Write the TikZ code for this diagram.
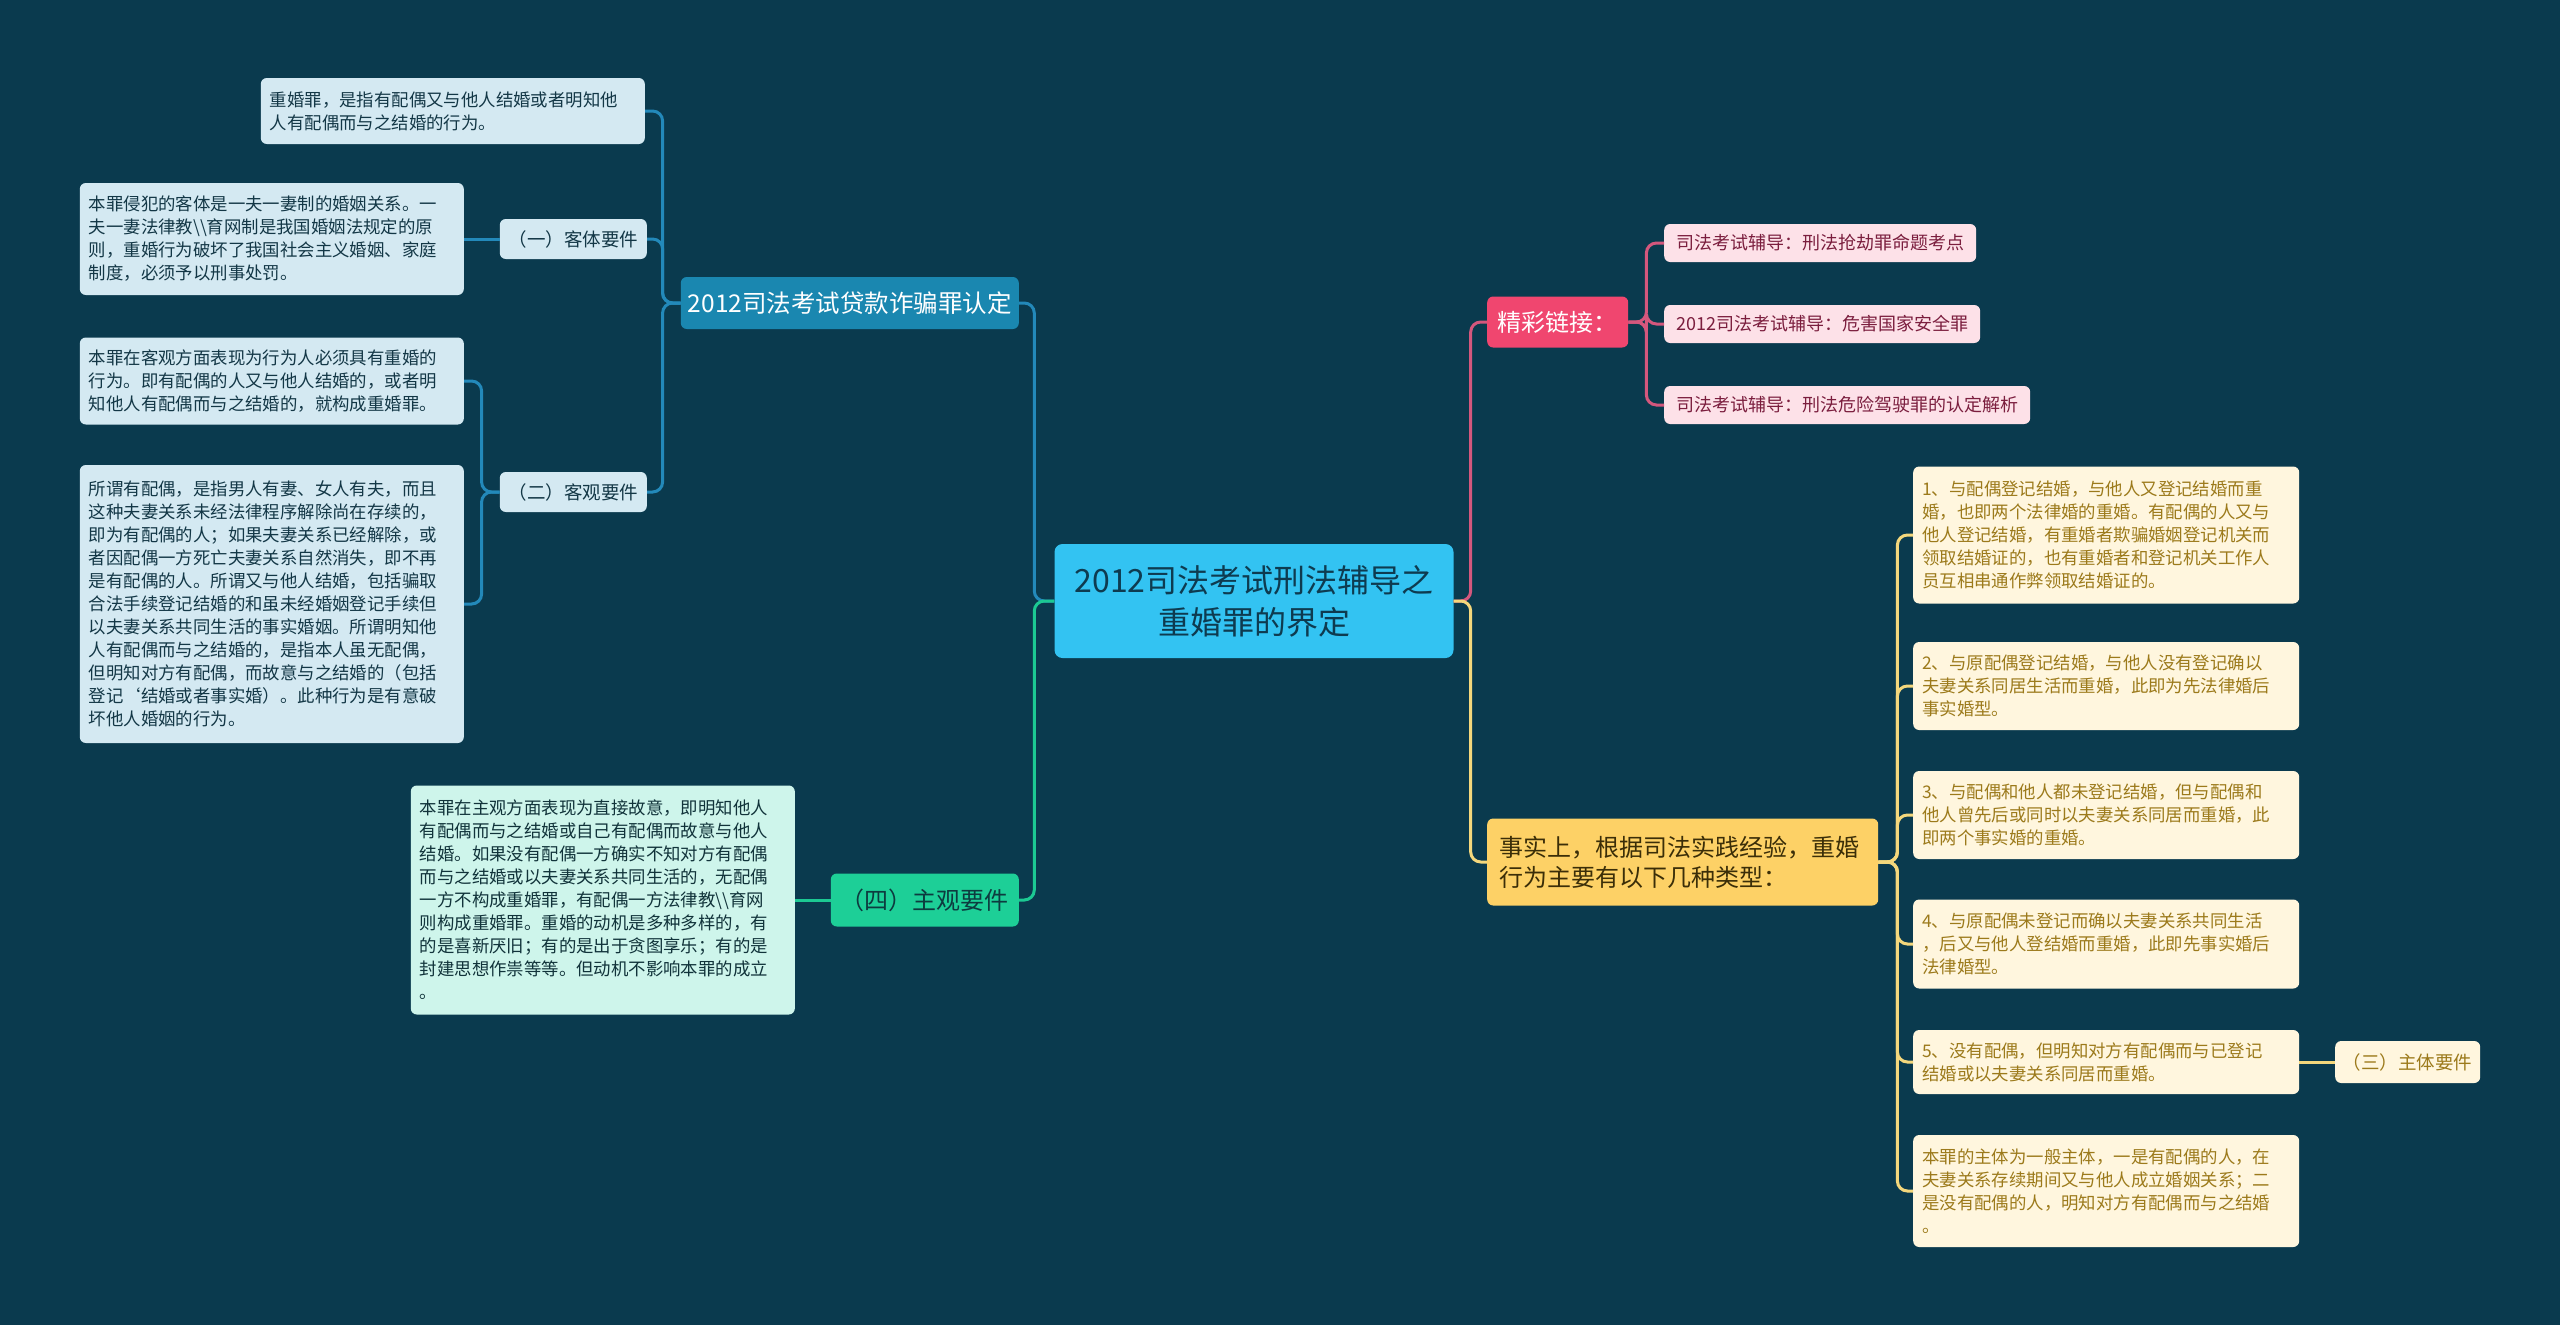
\documentclass[tikz,border=0pt]{standalone}
\usepackage{fontspec}
\setmainfont{Noto Sans CJK SC}
\definecolor{bg}{HTML}{0A3A4E}
\definecolor{rootfill}{HTML}{33C3F2}
\definecolor{roottext}{HTML}{0E3B50}
\definecolor{bluefill}{HTML}{1A87B0}
\definecolor{blueline}{HTML}{2389BA}
\definecolor{lbfill}{HTML}{D4E9F2}
\definecolor{lbtext}{HTML}{133746}
\definecolor{greenfill}{HTML}{1DCF97}
\definecolor{greenline}{HTML}{1CC993}
\definecolor{greentext}{HTML}{0D3B3F}
\definecolor{mintfill}{HTML}{CEF5EB}
\definecolor{minttext}{HTML}{11333A}
\definecolor{pinkfill}{HTML}{F0466F}
\definecolor{pinkline}{HTML}{D4577D}
\definecolor{pinkchild}{HTML}{FDE1E8}
\definecolor{pinktext}{HTML}{7B1E3E}
\definecolor{yelfill}{HTML}{FDD166}
\definecolor{yelline}{HTML}{F4D77C}
\definecolor{yeltext}{HTML}{3B2E08}
\definecolor{creamfill}{HTML}{FFF6DE}
\definecolor{creamtext}{HTML}{9C7A1B}
\begin{document}
\begin{tikzpicture}[x=1pt,y=-1pt,
  rootbox/.style={fill=rootfill, text=roottext, rounded corners=8pt, inner sep=0pt,
    minimum width=399pt, minimum height=114pt, align=center,
    font=\fontsize{32}{42}\selectfont},
  branchbox/.style={rounded corners=6pt, inner sep=0pt, align=center,
    font=\fontsize{24}{30}\selectfont},
  smallbox/.style={rounded corners=6pt, inner xsep=9pt, inner ysep=0pt,
    text width=366pt, align=left, font=\fontsize{17.4}{23}\selectfont},
  labelbox/.style={rounded corners=6pt, inner sep=0pt, align=center,
    font=\fontsize{18.5}{23}\selectfont},
  lbox/.style={smallbox, fill=lbfill, text=lbtext, anchor=east},
  mbox/.style={smallbox, fill=mintfill, text=minttext, anchor=east},
  cbox/.style={smallbox, fill=creamfill, text=creamtext, anchor=west, text width=368pt},
  pbox/.style={rounded corners=6pt, inner xsep=12pt, inner ysep=0pt, minimum height=38pt,
    fill=pinkchild, text=pinktext, anchor=west, font=\fontsize{18}{23}\selectfont},
  conn/.style={line width=3pt, rounded corners=10pt},
]
\fill[bg] (0,0) rectangle (2560,1325);
\useasboundingbox (0,0) rectangle (2560,1325);

% root
\node[rootbox] (root) at (1254,601) {2012司法考试刑法辅导之\\重婚罪的界定};

% left branch 1
\node[branchbox, fill=bluefill, text=white, anchor=east, minimum width=338pt, minimum height=52pt,
  font=\fontsize{24.5}{30}\selectfont] (b1) at (1019,303) {2012司法考试贷款诈骗罪认定};
\node[lbox, minimum height=66pt] (def) at (645,111) {重婚罪，是指有配偶又与他人结婚或者明知他\\人有配偶而与之结婚的行为。};
\node[labelbox, fill=lbfill, text=lbtext, anchor=east, minimum width=147pt, minimum height=40pt] (k1) at (647,239) {（一）客体要件};
\node[labelbox, fill=lbfill, text=lbtext, anchor=east, minimum width=147pt, minimum height=40pt] (k2) at (647,492) {（二）客观要件};
\node[lbox, minimum height=112pt] (d1) at (464,239) {本罪侵犯的客体是一夫一妻制的婚姻关系。一\\夫一妻法律教\textbackslash\textbackslash 育网制是我国婚姻法规定的原\\则，重婚行为破坏了我国社会主义婚姻、家庭\\制度，必须予以刑事处罚。};
\node[lbox, minimum height=87pt] (d2) at (464,381) {本罪在客观方面表现为行为人必须具有重婚的\\行为。即有配偶的人又与他人结婚的，或者明\\知他人有配偶而与之结婚的，就构成重婚罪。};
\node[lbox, minimum height=278pt] (d3) at (464,604) {所谓有配偶，是指男人有妻、女人有夫，而且\\这种夫妻关系未经法律程序解除尚在存续的，\\即为有配偶的人；如果夫妻关系已经解除，或\\者因配偶一方死亡夫妻关系自然消失，即不再\\是有配偶的人。所谓又与他人结婚，包括骗取\\合法手续登记结婚的和虽未经婚姻登记手续但\\以夫妻关系共同生活的事实婚姻。所谓明知他\\人有配偶而与之结婚的，是指本人虽无配偶，\\但明知对方有配偶，而故意与之结婚的（包括\\登记‘结婚或者事实婚）。此种行为是有意破\\坏他人婚姻的行为。};

% left branch 4
\node[branchbox, fill=greenfill, text=greentext, anchor=east, minimum width=188pt, minimum height=53pt] (b4) at (1019,900) {（四）主观要件};
\node[mbox, minimum height=229pt] (d4) at (795,900) {本罪在主观方面表现为直接故意，即明知他人\\有配偶而与之结婚或自己有配偶而故意与他人\\结婚。如果没有配偶一方确实不知对方有配偶\\而与之结婚或以夫妻关系共同生活的，无配偶\\一方不构成重婚罪，有配偶一方法律教\textbackslash\textbackslash 育网\\则构成重婚罪。重婚的动机是多种多样的，有\\的是喜新厌旧；有的是出于贪图享乐；有的是\\封建思想作祟等等。但动机不影响本罪的成立\\。};

% right branch pink
\node[branchbox, fill=pinkfill, text=white, anchor=west, minimum width=141pt, minimum height=51pt] (r1) at (1487,322) {精彩链接：};
\node[pbox] (p1) at (1664,243) {司法考试辅导：刑法抢劫罪命题考点};
\node[pbox] (p2) at (1664,324) {2012司法考试辅导：危害国家安全罪};
\node[pbox] (p3) at (1664,405) {司法考试辅导：刑法危险驾驶罪的认定解析};

% right branch yellow
\node[branchbox, fill=yelfill, text=yeltext, anchor=west, minimum width=391pt, minimum height=87pt,
  text width=367pt, align=left] (r2) at (1487,862) {事实上，根据司法实践经验，重婚\\行为主要有以下几种类型：};
\node[cbox, minimum height=137pt] (y1) at (1913,535) {1、与配偶登记结婚，与他人又登记结婚而重\\婚，也即两个法律婚的重婚。有配偶的人又与\\他人登记结婚，有重婚者欺骗婚姻登记机关而\\领取结婚证的，也有重婚者和登记机关工作人\\员互相串通作弊领取结婚证的。};
\node[cbox, minimum height=88pt] (y2) at (1913,686) {2、与原配偶登记结婚，与他人没有登记确以\\夫妻关系同居生活而重婚，此即为先法律婚后\\事实婚型。};
\node[cbox, minimum height=88pt] (y3) at (1913,815) {3、与配偶和他人都未登记结婚，但与配偶和\\他人曾先后或同时以夫妻关系同居而重婚，此\\即两个事实婚的重婚。};
\node[cbox, minimum height=89pt] (y4) at (1913,944) {4、与原配偶未登记而确以夫妻关系共同生活\\，后又与他人登结婚而重婚，此即先事实婚后\\法律婚型。};
\node[cbox, minimum height=64pt] (y5) at (1913,1062) {5、没有配偶，但明知对方有配偶而与已登记\\结婚或以夫妻关系同居而重婚。};
\node[cbox, minimum height=112pt] (y6) at (1913,1191) {本罪的主体为一般主体，一是有配偶的人，在\\夫妻关系存续期间又与他人成立婚姻关系；二\\是没有配偶的人，明知对方有配偶而与之结婚\\。};
\node[labelbox, fill=creamfill, text=creamtext, anchor=west, minimum width=145pt, minimum height=42pt] (s3) at (2335,1062) {（三）主体要件};

% connectors
\draw[conn, blueline] (root.west) -- ++(-20,0) |- (b1.east);
\draw[conn, greenline] (root.west) -- ++(-20,0) |- (b4.east);
\draw[conn, pinkline] (root.east) -- ++(17,0) |- (r1.west);
\draw[conn, yelline] (root.east) -- ++(17,0) |- (r2.west);
\foreach \t in {def,k1,k2} \draw[conn, blueline] (b1.west) -- ++(-18,0) |- (\t.east);
\draw[conn, blueline] (k1.west) -- (d1.east);
\foreach \t in {d2,d3} \draw[conn, blueline] (k2.west) -- ++(-18,0) |- (\t.east);
\draw[conn, greenline] (b4.west) -- (d4.east);
\foreach \t in {p1,p2,p3} \draw[conn, pinkline] (r1.east) -- ++(18,0) |- (\t.west);
\foreach \t in {y1,y2,y3,y4,y5,y6} \draw[conn, yelline] (r2.east) -- ++(19,0) |- (\t.west);
\draw[conn, yelline] (y5.east) -- (s3.west);
\end{tikzpicture}
\end{document}
